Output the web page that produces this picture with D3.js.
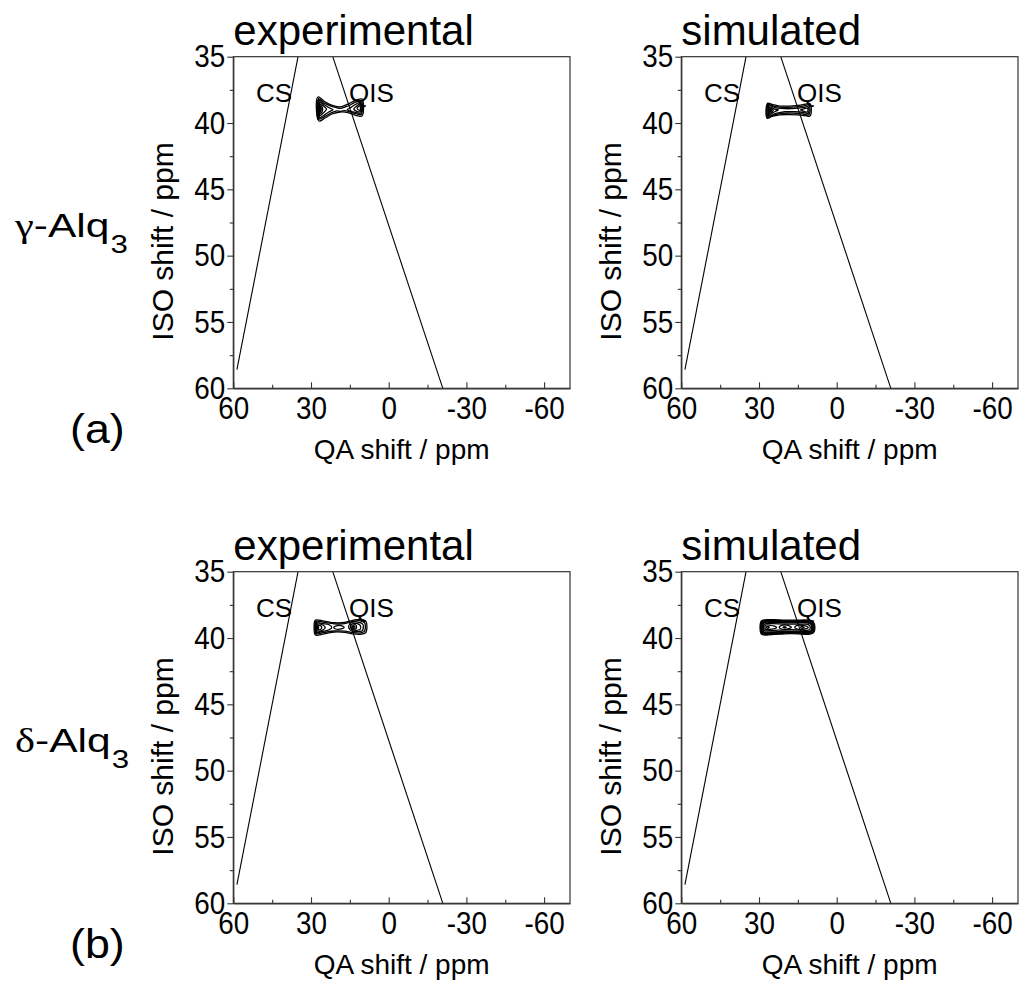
<!DOCTYPE html>
<html>
<head>
<meta charset="utf-8">
<script src="https://cdn.jsdelivr.net/npm/d3@7"></script>
<style>
  html, body { margin: 0; padding: 0; background: #fff; }
  svg { display: block; }
  text { font-family: "Liberation Sans", Arial, Helvetica, sans-serif; fill: #000; }
</style>
</head>
<body>
<script>
// ---------------- data ----------------
const columnTitles = ["experimental", "simulated"];
const rowSamples = ["γ", "δ"];          // polymorph symbol
const rowCompound = "-Alq";
const rowSubscript = "3";
const rowParts = ["(a)", "(b)"];

const xDomain = [60, -70];               // QA shift / ppm
const yDomain = [35, 60];                // ISO shift / ppm
const xTicks = [60, 30, 0, -30, -60];
const xMinorTicks = [45, 15, -15, -45];
const yTicks = [35, 40, 45, 50, 55, 60];
const yMinorTicks = [37.5, 42.5, 47.5, 52.5, 57.5];
const xTitle = "QA shift / ppm";
const yTitle = "ISO shift / ppm";

// reference lines [QA, ISO]
const csLine = [[35, 35], [58.6, 58.6]];
const qisLine = [[21.6, 35], [-20.9, 60]];
const lineLabels = [
  { text: "CS", qa: 51.2, iso: 38.42 },
  { text: "QIS", qa: 15.3, iso: 38.42 }
];

// contour lines, each a closed polygon of [QA, ISO] points
const contoursGammaExp = [
  [[27.3,38.04],[25.0,38.34],[22.3,38.64],[18.8,38.79],[15.7,38.57],[12.6,38.27],[10.3,38.19],[9.7,38.79],[10.3,39.47],[13.0,39.40],[15.7,39.21],[18.8,39.17],[21.9,39.32],[24.6,39.62],[26.9,39.85],[27.9,39.02]],
  [[27.0,38.2],[24.8,38.5],[22.0,38.75],[20.0,38.85],[18.5,38.9],[17.0,38.8],[15.5,38.7],[12.8,38.42],[10.6,38.35],[10.1,38.8],[10.6,39.35],[13.0,39.28],[15.5,39.12],[17.0,39.06],[18.5,39.12],[20.0,39.08],[22.0,39.22],[24.6,39.5],[26.8,39.7],[27.5,39.0]],
  [[26.8,38.3],[25.0,38.6],[23.0,38.85],[21.5,39.0],[23.0,39.15],[25.0,39.42],[26.8,39.6],[27.2,38.95]],
  [[10.8,38.45],[12.8,38.6],[14.8,38.85],[16.0,39.0],[14.8,39.1],[12.8,39.2],[10.8,39.25],[10.4,38.85]],
  [[26.6,38.45],[25.3,38.7],[24.0,38.95],[25.3,39.25],[26.6,39.45],[26.9,38.95]],
  [[11.0,38.55],[12.5,38.75],[13.5,38.95],[12.5,39.1],[11.0,39.15],[10.7,38.85]],
  [[26.5,38.6],[25.6,38.85],[25.6,39.1],[26.5,39.3],[26.7,38.95]],
  [[11.2,38.7],[12.2,38.9],[11.2,39.05],[10.9,38.88]],
  [[26.4,38.75],[26.0,38.95],[26.4,39.15],[26.55,38.95]],
  [[27.1,38.15],[26.7,38.6],[26.7,39.3],[27.2,39.75],[27.6,39.0]]
];
const contoursGammaSim = [
  [[26.6,38.5],[25.0,38.6],[22.0,38.72],[18.0,38.72],[14.0,38.65],[11.5,38.55],[10.3,38.55],[9.8,39.0],[10.3,39.47],[12.0,39.45],[15.0,39.38],[18.0,39.36],[22.0,39.38],[25.0,39.5],[26.8,39.65],[27.3,39.05]],
  [[26.3,38.6],[24.5,38.72],[21.0,38.82],[17.0,38.8],[13.0,38.72],[10.8,38.65],[10.3,39.0],[10.8,39.38],[13.0,39.32],[17.0,39.25],[21.0,39.27],[24.5,39.4],[26.4,39.55],[26.9,39.05]],
  [[26.0,38.7],[23.5,38.85],[20.0,38.92],[16.0,38.9],[12.5,38.82],[11.0,38.78],[10.7,39.0],[11.0,39.28],[12.5,39.22],[16.0,39.15],[20.0,39.15],[23.5,39.28],[26.0,39.45],[26.5,39.05]],
  [[25.8,38.8],[24.0,38.95],[22.5,39.02],[24.0,39.15],[25.8,39.35],[26.2,39.05]],
  [[11.3,38.88],[13.0,38.95],[14.0,39.0],[13.0,39.1],[11.3,39.17],[11.1,39.02]],
  [[25.6,38.9],[24.5,39.03],[25.6,39.25],[25.9,39.05]],
  [[25.5,38.98],[25.1,39.05],[25.5,39.15],[25.7,39.06]],
  [[26.5,38.55],[26.2,39.05],[26.6,39.6],[27.0,39.05]]
];
const contoursDeltaExp = [
  [[28.3,38.65],[25.0,38.72],[21.0,38.85],[17.0,38.83],[13.5,38.65],[10.5,38.6],[8.8,38.75],[8.4,39.15],[8.9,39.6],[11.0,39.72],[14.0,39.68],[17.0,39.57],[21.0,39.55],[25.0,39.68],[28.3,39.77],[28.8,39.2]],
  [[27.9,38.75],[25.0,38.82],[21.0,38.93],[17.0,38.92],[13.8,38.75],[11.0,38.7],[9.3,38.85],[9.0,39.15],[9.4,39.5],[11.0,39.62],[14.0,39.58],[17.0,39.48],[21.0,39.47],[25.0,39.58],[27.9,39.67],[28.3,39.2]],
  [[27.5,38.85],[25.5,38.92],[23.0,39.0],[22.0,39.2],[23.0,39.38],[25.5,39.5],[27.5,39.57],[27.9,39.2]],
  [[14.5,38.85],[12.0,38.8],[10.0,38.95],[9.8,39.2],[10.2,39.45],[12.0,39.52],[14.5,39.45],[15.5,39.15]],
  [[27.2,38.95],[25.5,39.02],[24.5,39.2],[25.5,39.4],[27.2,39.47],[27.5,39.2]],
  [[14.2,38.95],[12.5,38.9],[11.0,39.05],[11.0,39.35],[12.5,39.42],[14.2,39.35],[14.8,39.15]],
  [[26.9,39.05],[26.0,39.12],[26.0,39.3],[26.9,39.37],[27.1,39.2]],
  [[13.8,39.05],[12.8,39.0],[12.4,39.2],[12.8,39.32],[13.8,39.28],[14.1,39.15]],
  [[13.5,39.1],[13.0,39.15],[13.2,39.25],[13.6,39.2]],
  [[28.1,38.7],[27.8,39.2],[28.1,39.72],[28.5,39.2]],
  [[20.5,39.1],[18.0,39.08],[17.2,39.2],[18.0,39.3],[20.5,39.32],[21.2,39.2]]
];
const contoursDeltaSim = [
  [[29.0,38.7],[25.0,38.62],[20.0,38.65],[15.0,38.65],[11.0,38.66],[9.0,38.8],[8.4,39.2],[9.0,39.6],[11.0,39.72],[15.0,39.68],[20.0,39.68],[25.0,39.74],[29.0,39.72],[29.6,39.2]],
  [[28.8,38.74],[25.0,38.67],[20.0,38.7],[15.0,38.7],[11.1,38.71],[9.25,38.84],[8.7,39.2],[9.25,39.56],[11.1,39.67],[15.0,39.63],[20.0,39.63],[25.0,39.69],[28.8,39.67],[29.35,39.2]],
  [[28.6,38.78],[25.0,38.72],[20.0,38.75],[15.0,38.75],[11.2,38.76],[9.5,38.88],[9.0,39.2],[9.5,39.52],[11.2,39.62],[15.0,39.58],[20.0,39.58],[25.0,39.64],[28.6,39.62],[29.1,39.2]],
  [[28.4,38.82],[25.0,38.77],[20.0,38.8],[15.0,38.8],[11.35,38.81],[9.75,38.92],[9.3,39.2],[9.75,39.48],[11.35,39.57],[15.0,39.53],[20.0,39.53],[25.0,39.59],[28.4,39.57],[28.85,39.2]],
  [[28.2,38.86],[25.0,38.82],[20.0,38.85],[15.0,38.85],[11.5,38.86],[10.0,38.96],[9.6,39.2],[10.0,39.45],[11.5,39.52],[15.0,39.48],[20.0,39.48],[25.0,39.54],[28.2,39.52],[28.6,39.2]],
  [[27.8,38.94],[25.0,38.92],[20.0,38.95],[15.0,38.95],[11.8,38.96],[10.5,39.05],[10.2,39.2],[10.5,39.37],[11.8,39.42],[15.0,39.38],[20.0,39.38],[25.0,39.44],[27.8,39.43],[28.2,39.2]],
  [[27.4,39.02],[25.5,39.04],[24.0,39.1],[23.2,39.2],[24.0,39.3],[25.5,39.34],[27.4,39.36],[27.7,39.2]],
  [[21.5,39.06],[18.5,39.06],[17.5,39.2],[18.5,39.3],[21.5,39.3],[22.2,39.18]],
  [[15.5,39.06],[12.5,39.06],[11.0,39.2],[12.5,39.32],[15.5,39.3],[16.2,39.18]],
  [[26.8,39.12],[26.0,39.18],[26.8,39.27],[27.1,39.2]],
  [[13.5,39.13],[12.6,39.2],[13.5,39.25],[13.9,39.19]],
  [[20.3,39.14],[19.5,39.2],[20.3,39.24],[20.7,39.19]],
  [[28.8,38.74],[28.4,39.2],[28.8,39.68],[29.3,39.2]]
];
const panelContours = [
  [contoursGammaExp, contoursGammaSim],
  [contoursDeltaExp, contoursDeltaSim]
];

// ---------------- layout ----------------
const WIDTH = 1019, HEIGHT = 996;
const plotW = 336.7, plotH = 331.6;
const colX = [233.3, 681.3];
const rowY = [56.7, 571.7];

const svg = d3.select("body").append("svg")
  .attr("width", WIDTH).attr("height", HEIGHT);

const x = d3.scaleLinear().domain(xDomain).range([0, plotW]);
const y = d3.scaleLinear().domain(yDomain).range([0, plotH]);

const lineGen = d3.line().x(d => x(d[0])).y(d => y(d[1]));
const contourGen = d3.line().x(d => x(d[0])).y(d => y(d[1])).curve(d3.curveCatmullRomClosed.alpha(0.5));

rowParts.forEach((part, r) => {
  // row labels
  const lab = svg.append("text")
    .attr("transform", `translate(15,${237 + rowY[r] - rowY[0]}) scale(1.25,1)`)
    .style("font-size", "34px");
  lab.append("tspan").text(rowSamples[r])
    .style("font-family", "'Liberation Serif', 'Times New Roman', serif");
  lab.append("tspan").text(rowCompound);
  lab.append("tspan").text(rowSubscript).attr("dx", 1).attr("dy", 16)
    .style("font-size", "25px");

  svg.append("text")
    .attr("transform", `translate(70,${443 + rowY[r] - rowY[0]}) scale(1.12,1)`)
    .style("font-size", "40px")
    .text(part);

  columnTitles.forEach((title, c) => {
    const g = svg.append("g").attr("transform", `translate(${colX[c]},${rowY[r]})`);

    // title
    g.append("text").attr("x", 0).attr("y", -12)
      .style("font-size", "42px").text(title);

    // clip
    const clipId = `clip-${r}-${c}`;
    g.append("clipPath").attr("id", clipId)
      .append("rect").attr("width", plotW).attr("height", plotH);

    const inner = g.append("g").attr("clip-path", `url(#${clipId})`);

    // reference lines
    [csLine, qisLine].forEach(l => {
      inner.append("path").attr("d", lineGen(l))
        .attr("fill", "none").attr("stroke", "#000").attr("stroke-width", 1.1);
    });

    // contours
    inner.selectAll("path.contour").data(panelContours[r][c]).join("path")
      .attr("class", "contour")
      .attr("d", d => contourGen(d))
      .attr("fill", "none").attr("stroke", "#000").attr("stroke-width", 1.3);

    // line labels
    lineLabels.forEach(l => {
      g.append("text").attr("x", x(l.qa)).attr("y", y(l.iso))
        .style("font-size", "26px").text(l.text);
    });

    // frame
    g.append("rect").attr("width", plotW).attr("height", plotH)
      .attr("fill", "none").attr("stroke", "#333").attr("stroke-width", 1.2);

    // bottom axis
    const xAxisG = g.append("g").attr("transform", `translate(0,${plotH})`)
      .call(d3.axisBottom(x).tickValues(xTicks).tickFormat(d3.format("d"))
        .tickSizeInner(-6).tickSizeOuter(0).tickPadding(8));
    xAxisG.select(".domain").attr("stroke", "#333").attr("stroke-width", 1.2);
    xAxisG.selectAll("line").attr("stroke", "#333").attr("stroke-width", 1.1);
    xAxisG.selectAll("text")
      .style("font-size", "32px").style("font-family", "'Liberation Sans', Arial, sans-serif")
      .attr("fill", "#000")
      .attr("transform", "scale(0.87,1)")
      .text(d => d3.format("d")(d).replace("−", "-"));
    g.append("g").attr("transform", `translate(0,${plotH})`)
      .call(d3.axisBottom(x).tickValues(xMinorTicks).tickFormat("").tickSizeInner(-3.5).tickSizeOuter(0))
      .call(s => s.select(".domain").remove())
      .selectAll("line").attr("stroke", "#333").attr("stroke-width", 1.1);

    // left axis
    const yAxisG = g.append("g")
      .call(d3.axisLeft(y).tickValues(yTicks).tickFormat(d3.format("d"))
        .tickSizeInner(6).tickSizeOuter(0).tickPadding(3));
    yAxisG.select(".domain").attr("stroke", "#333").attr("stroke-width", 1.2);
    yAxisG.selectAll("line").attr("stroke", "#333").attr("stroke-width", 1.1);
    yAxisG.selectAll("text")
      .style("font-size", "32px").style("font-family", "'Liberation Sans', Arial, sans-serif")
      .attr("fill", "#000")
      .attr("x", 0)
      .attr("transform", "translate(-8,0) scale(0.87,1)");
    g.append("g")
      .call(d3.axisLeft(y).tickValues(yMinorTicks).tickFormat("").tickSizeInner(3.5).tickSizeOuter(0))
      .call(s => s.select(".domain").remove())
      .selectAll("line").attr("stroke", "#333").attr("stroke-width", 1.1);

    // axis titles
    g.append("text").attr("x", plotW / 2).attr("y", plotH + 71)
      .attr("text-anchor", "middle").style("font-size", "28px").text(xTitle);
    g.append("text")
      .attr("transform", `translate(-60,${plotH / 2 + 19}) rotate(-90)`)
      .attr("text-anchor", "middle").style("font-size", "30px").text(yTitle);
  });
});
</script>
</body>
</html>
